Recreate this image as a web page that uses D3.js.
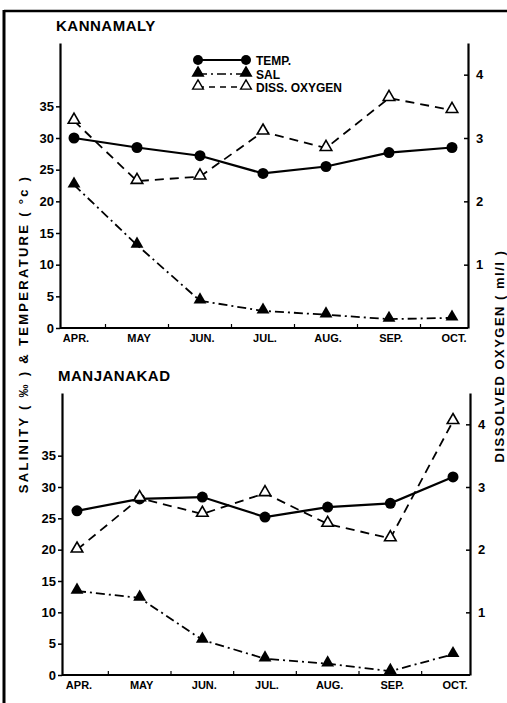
<!DOCTYPE html>
<html>
<head>
<meta charset="utf-8">
<script src="https://cdn.jsdelivr.net/npm/d3@7"></script>
<style>
  body { margin: 0; background: #fff; overflow: hidden; }
  text { font-family: "Liberation Sans", Arial, sans-serif; font-weight: bold; fill: #000; }
</style>
</head>
<body>
<script>
const months = ["APR.", "MAY", "JUN.", "JUL.", "AUG.", "SEP.", "OCT."];
const leftTicks = [0, 5, 10, 15, 20, 25, 30, 35];
const rightTicks = [1, 2, 3, 4];

const kannamalyTemp = [30, 28.5, 27.2, 24.4, 25.5, 27.7, 28.5];
const kannamalySal = [22.6, 13.1, 4.3, 2.7, 2.1, 1.4, 1.6];
const kannamalyOxy = [3.27, 2.32, 2.39, 3.1, 2.84, 3.63, 3.44];

const manjanakadTemp = [26.2, 28.1, 28.4, 25.2, 26.8, 27.4, 31.6];
const manjanakadSal = [13.4, 12.3, 5.6, 2.6, 1.8, 0.6, 3.3];
const manjanakadOxy = [2.0, 2.82, 2.57, 2.9, 2.41, 2.18, 4.05];

const W = 507, H = 703;
const svg = d3.select("body").append("svg").attr("width", W).attr("height", H);

// scan frame
svg.append("line").attr("x1", 4).attr("x2", 4).attr("y1", 10).attr("y2", H)
    .attr("stroke", "#000").attr("stroke-width", 3);
svg.append("line").attr("x1", 4).attr("x2", W).attr("y1", 11).attr("y2", 11)
    .attr("stroke", "#000").attr("stroke-width", 2.5);

const triUp = d3.symbol().type(d3.symbolTriangle);

function drawPanel(p) {
    const x = d3.scalePoint().domain(months).range([p.x0, p.x1]);
    const yL = d3.scaleLinear().domain([0, 45]).range([p.yBottom, p.yTop]);
    const yR = d3.scaleLinear().domain([0, 4.5]).range([p.yBottom, p.yTop]);

    const g = svg.append("g");

    // title
    g.append("text").attr("x", p.left - 4).attr("y", p.yTop - 12)
        .style("font-size", "15px").style("letter-spacing", "0.5px").text(p.title);

    // left axis
    const axL = g.append("g").attr("transform", "translate(" + p.left + ",0)")
        .call(d3.axisLeft(yL).tickValues(leftTicks).tickSize(4).tickSizeOuter(0).tickPadding(2));
    // right axis
    const axR = g.append("g").attr("transform", "translate(" + p.right + ",0)")
        .call(d3.axisRight(yR).tickValues(rightTicks).tickFormat(d3.format("d"))
            .tickSize(-4).tickSizeOuter(0).tickPadding(8));
    [axL, axR].forEach((a) => {
        a.select(".domain").attr("stroke-width", 2.2);
        a.selectAll(".tick line").attr("stroke-width", 1.5);
        a.selectAll(".tick text").style("font-size", "13px")
            .style("font-family", '"Liberation Sans", Arial, sans-serif').style("font-weight", "bold");
    });

    // bottom axis
    g.append("line").attr("x1", p.left).attr("x2", p.right)
        .attr("y1", p.yBottom).attr("y2", p.yBottom)
        .attr("stroke", "#000").attr("stroke-width", 2.2);
    const step = x.step();
    months.slice(0, -1).forEach((m) => {
        g.append("line").attr("x1", x(m) + step / 2).attr("x2", x(m) + step / 2)
            .attr("y1", p.yBottom).attr("y2", p.yBottom - 4)
            .attr("stroke", "#000").attr("stroke-width", 1.2);
    });
    g.selectAll("text.month").data(months).join("text").attr("class", "month")
        .attr("x", (d) => x(d) + 2).attr("y", p.yBottom + 14)
        .attr("text-anchor", "middle").style("font-size", "11px").text((d) => d);

    // series
    const lineL = d3.line().x((d, i) => x(months[i])).y((d) => yL(d));
    const lineR = d3.line().x((d, i) => x(months[i])).y((d) => yR(d));

    g.append("path").attr("d", lineR(p.oxy)).attr("fill", "none")
        .attr("stroke", "#000").attr("stroke-width", 1.8).attr("stroke-dasharray", "9,6");
    g.append("path").attr("d", lineL(p.sal)).attr("fill", "none")
        .attr("stroke", "#000").attr("stroke-width", 1.8).attr("stroke-dasharray", "9,4,2,4");
    g.append("path").attr("d", lineL(p.temp)).attr("fill", "none")
        .attr("stroke", "#000").attr("stroke-width", 2.2);

    g.selectAll("circle.temp").data(p.temp).join("circle").attr("class", "temp")
        .attr("cx", (d, i) => x(months[i])).attr("cy", (d) => yL(d)).attr("r", 5.5).attr("fill", "#000");
    g.selectAll("path.sal").data(p.sal).join("path").attr("class", "sal")
        .attr("transform", (d, i) => "translate(" + x(months[i]) + "," + (yL(d) - 1) + ")")
        .attr("d", triUp.size(72)).attr("fill", "#000");
    g.selectAll("path.oxy").data(p.oxy).join("path").attr("class", "oxy")
        .attr("transform", (d, i) => "translate(" + x(months[i]) + "," + (yR(d) - 1) + ")")
        .attr("d", triUp.size(58)).attr("fill", "#fff").attr("stroke", "#000").attr("stroke-width", 1.6);
}

drawPanel({title: "KANNAMALY", left: 60, right: 468, x0: 74, x1: 452, yTop: 43, yBottom: 328,
    temp: kannamalyTemp, sal: kannamalySal, oxy: kannamalyOxy});
drawPanel({title: "MANJANAKAD", left: 62, right: 470, x0: 77, x1: 453, yTop: 393, yBottom: 675,
    temp: manjanakadTemp, sal: manjanakadSal, oxy: manjanakadOxy});

// legend
const legend = svg.append("g");
const legendItems = [
    {label: "TEMP.", y: 60, dash: null, kind: "temp"},
    {label: "SAL", y: 74, dash: "9,4,2,4", kind: "sal"},
    {label: "DISS. OXYGEN", y: 87, dash: "6,5", kind: "oxy"}
];
legendItems.forEach((it) => {
    legend.append("line").attr("x1", 198).attr("x2", 246).attr("y1", it.y).attr("y2", it.y)
        .attr("stroke", "#000").attr("stroke-width", it.kind === "temp" ? 2.2 : 1.6)
        .attr("stroke-dasharray", it.dash);
    [198, 246].forEach((cx) => {
        if (it.kind === "temp") {
            legend.append("circle").attr("cx", cx).attr("cy", it.y).attr("r", 5).attr("fill", "#000");
        } else {
            legend.append("path").attr("transform", "translate(" + cx + "," + (it.y - 1) + ")")
                .attr("d", triUp.size(50))
                .attr("fill", it.kind === "sal" ? "#000" : "#fff")
                .attr("stroke", "#000").attr("stroke-width", 1.4);
        }
    });
    legend.append("text").attr("x", 256).attr("y", it.y + 5).style("font-size", "12px").text(it.label);
});

// axis titles
svg.append("text").attr("transform", "translate(28,334) rotate(-90)")
    .attr("text-anchor", "middle").style("font-size", "13px").style("letter-spacing", "2.3px")
    .text("SALINITY ( \u2030 ) & TEMPERATURE ( \u00B0c )");
svg.append("text").attr("transform", "translate(504,356) rotate(-90)")
    .attr("text-anchor", "middle").style("font-size", "13px").style("letter-spacing", "1.5px")
    .text("DISSOLVED OXYGEN ( ml/l )");
</script>
</body>
</html>
